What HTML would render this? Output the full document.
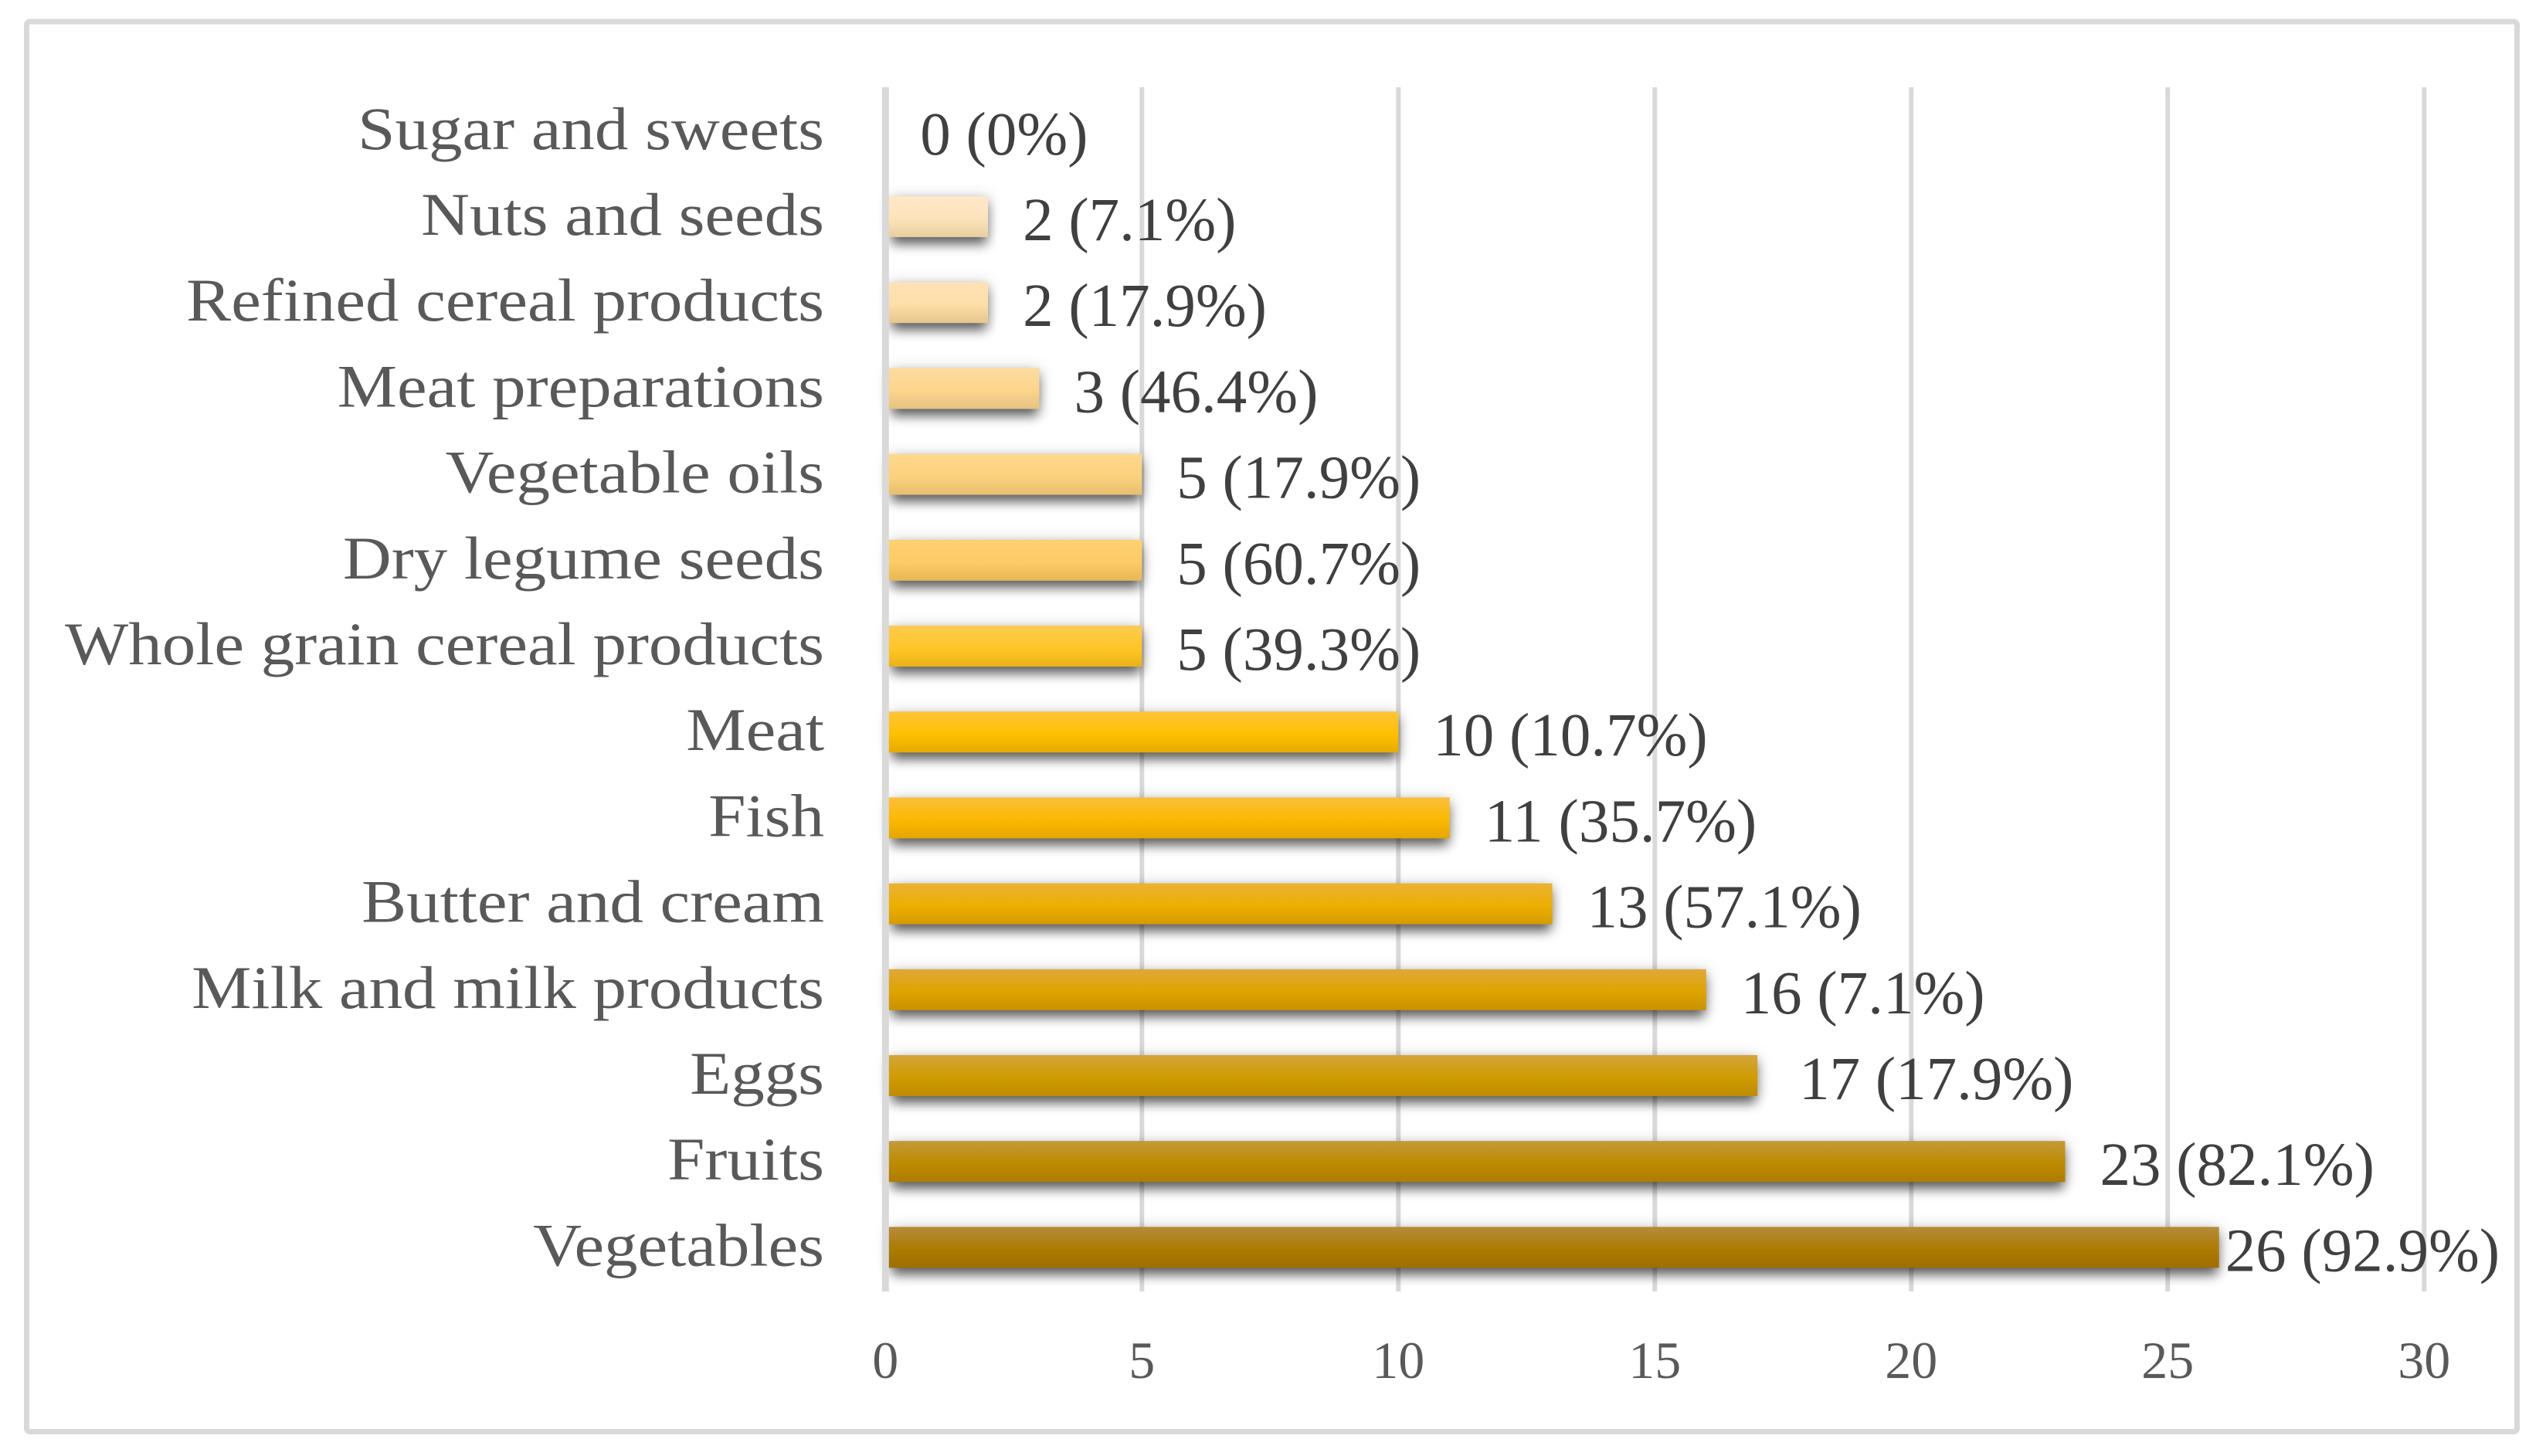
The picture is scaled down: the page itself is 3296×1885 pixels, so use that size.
<!DOCTYPE html>
<html lang="en">
<head>
<meta charset="utf-8">
<title>Food group bar chart</title>
<style>
html,body{margin:0;padding:0;background:#fff;width:3296px;height:1885px;overflow:hidden}
svg{display:block;position:absolute;left:0;top:0}
.cat{font-family:"Liberation Serif",serif;font-size:78px;fill:#595959}
.val{font-family:"Liberation Serif",serif;font-size:79px;fill:#404040}
.tick{font-family:"Liberation Serif",serif;font-size:68px;fill:#595959}
</style>
</head>
<body>
<svg id="chart" xmlns="http://www.w3.org/2000/svg" width="3296" height="1885" viewBox="0 0 3296 1885">
<defs id="defs">
<filter id="shadowBlur" x="-10%" y="-100%" width="120%" height="300%"><feGaussianBlur stdDeviation="7.5"/></filter>
<filter id="haloBlur" x="-10%" y="-100%" width="120%" height="300%"><feGaussianBlur stdDeviation="10"/></filter>
</defs>
<rect x="34.5" y="28" width="3224" height="1825.5" rx="4" fill="#fff" stroke="#d9d9d9" stroke-width="7"/>
<g id="grid"></g>
<g id="bars"></g>
<g id="axis"></g>
<g id="catLabels"></g>
<g id="valLabels"></g>
<g id="tickLabels"></g>
</svg>
<script>
const categories = ["Sugar and sweets","Nuts and seeds","Refined cereal products","Meat preparations","Vegetable oils","Dry legume seeds","Whole grain cereal products","Meat","Fish","Butter and cream","Milk and milk products","Eggs","Fruits","Vegetables"];
const counts = [0,2,2,3,5,5,5,10,11,13,16,17,23,26];
const percents = ["0%","7.1%","17.9%","46.4%","17.9%","60.7%","39.3%","10.7%","35.7%","57.1%","7.1%","17.9%","82.1%","92.9%"];
const tickValues = [0,5,10,15,20,25,30];
const barTopColors = ["#fff0d8","#fee8c8","#fee2b6","#fcdca0","#fed88f","#fed072","#ffca50","#ffc43b","#f9bf3a","#e9b334","#dfa938","#d4a53c","#c39a38","#b58c3c"];
const barMidColors = ["#fee8c8","#fde3bb","#fddfa8","#fdd58c","#fdd27c","#fecc66","#ffc626","#ffc000","#fdb900","#edaf00","#dfa400","#cf9c00","#bd8b00","#ab7b00"];
const barEndColors = ["#e8d8b0","#e8cfa0","#e8c68e","#e6c382","#e6bf70","#e6b754","#e8b218","#e5ac00","#e4a600","#d59c00","#c99100","#be8c00","#ae7c00","#9f6e00"];

const SVG_NS = "http://www.w3.org/2000/svg";
const xOrigin = 1146.3, unitWidth = 66.4;
const firstBarTop = 142.8, rowPitch = 111.2, barHeight = 53;
const xScale = v => xOrigin + v * unitWidth;
const yScale = i => firstBarTop + i * rowPitch;
const maxCount = Math.max(...counts);

function mk(tag, attrs, parent) {
  const el = document.createElementNS(SVG_NS, tag);
  for (const k in attrs) el.setAttribute(k, attrs[k]);
  parent.appendChild(el);
  return el;
}
function fitText(el, factor) {
  const w = el.getComputedTextLength();
  el.setAttribute("textLength", (w * factor).toFixed(1));
  el.setAttribute("lengthAdjust", "spacingAndGlyphs");
}
function labelGap(v) {
  if (v === maxCount) return 8;
  if (v === 17) return 54;
  return 45;
}

const defs = document.getElementById("defs");
const grid = document.getElementById("grid");
const bars = document.getElementById("bars");
const axis = document.getElementById("axis");
const catLabels = document.getElementById("catLabels");
const valLabels = document.getElementById("valLabels");
const tickLabels = document.getElementById("tickLabels");

tickValues.forEach(t => {
  if (t !== 0) {
    const line = mk("line", {x1: xScale(t), x2: xScale(t), y1: 113, y2: 1672, stroke: "#d9d9d9", "stroke-width": 6}, grid);
    
    
  }
  const label = mk("text", {x: xScale(t), y: 1784, "text-anchor": "middle", class: "tick"}, tickLabels);
  label.textContent = String(t);
  
  
});

const axisLine = mk("line", {x1: xScale(0), x2: xScale(0), y1: 113, y2: 1672, stroke: "#d9d9d9", "stroke-width": 9}, axis);



categories.forEach((name, i) => {
  const top = yScale(i);
  const v = counts[i];
  const w = xScale(v) - xOrigin;

  if (v > 0) {
    const grad = mk("linearGradient", {id: "barFill" + i, x1: 0, y1: 0, x2: 0, y2: 1}, defs);
    mk("stop", {offset: "0", "stop-color": barTopColors[i]}, grad);
    mk("stop", {offset: "0.55", "stop-color": barMidColors[i]}, grad);
    mk("stop", {offset: "1", "stop-color": barEndColors[i]}, grad);

    mk("rect", {x: xOrigin + 4, y: top, width: w - 2, height: barHeight, fill: "#000", opacity: 0.14, filter: "url(#haloBlur)"}, bars);
    mk("rect", {x: xOrigin + 8, y: top + 9, width: w - 10, height: barHeight, fill: "#000", opacity: 0.6, filter: "url(#shadowBlur)"}, bars);
    const bar = mk("rect", {x: xOrigin, y: top, width: w, height: barHeight, fill: "url(#barFill" + i + ")"}, bars);
    
    
  }

  const cat = mk("text", {x: 1067, y: top + 50, "text-anchor": "end", class: "cat"}, catLabels);
  cat.textContent = name;
  
  
  fitText(cat, 1.115);

  const val = mk("text", {x: xScale(v) + labelGap(v), y: top + 57, class: "val"}, valLabels);
  val.textContent = v + " (" + percents[i] + ")";
  
  
  fitText(val, 1.0);
});
</script>
</body>
</html>
